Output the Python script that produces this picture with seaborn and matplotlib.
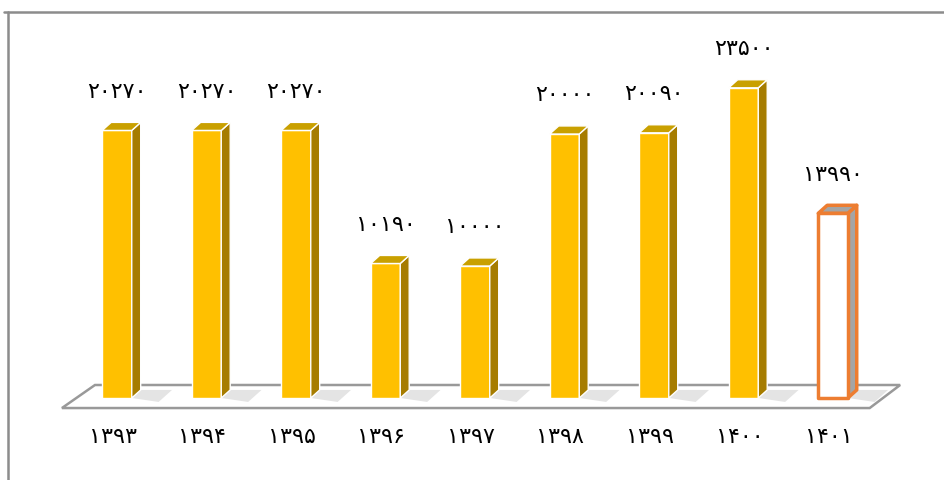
import numpy as np
import pandas as pd
import seaborn as sns
import matplotlib.pyplot as plt
from matplotlib.patches import Polygon
from matplotlib.lines import Line2D

# data (Persian digits as shown on the chart)
years = ['۱۳۹۳', '۱۳۹۴', '۱۳۹۵', '۱۳۹۶', '۱۳۹۷', '۱۳۹۸', '۱۳۹۹', '۱۴۰۰', '۱۴۰۱']
values = [20270, 20270, 20270, 10190, 10000, 20000, 20090, 23500, 13990]
value_labels = ['۲۰۲۷۰', '۲۰۲۷۰', '۲۰۲۷۰', '۱۰۱۹۰', '۱۰۰۰۰', '۲۰۰۰۰', '۲۰۰۹۰', '۲۳۵۰۰', '۱۳۹۹۰']

gold = '#FFC000'
gold_side = '#A67C00'
gold_top = '#C9A000'
orange = '#ED7D31'
grey_side = '#A5A5A5'
line_grey = '#999999'

sns.set_style('white')
plt.rcParams['font.family'] = ['DejaVu Sans']

df = pd.DataFrame({'year': years, 'value': values})

fig = plt.figure(figsize=(9.44, 4.8), dpi=100)
ax = fig.add_axes([0, 0, 1, 1])

# depth of the fake 3D effect (data units)
dx = 0.10
dy = 610

# floor
floor = Polygon([(-0.615, -760), (8.41, -760), (8.75, 985), (-0.246, 985)],
                closed=True, facecolor='white', edgecolor=line_grey, lw=1.8, zorder=1)
ax.add_patch(floor)

pal = [gold] * (len(years) - 1) + ['white']
sns.barplot(data=df, x='year', y='value', hue='year', palette=pal, legend=False,
            saturation=1, width=0.33, edgecolor='white', linewidth=1, ax=ax, zorder=3)

bars = [p for p in ax.patches if p is not floor]
for i, p in enumerate(bars):
    x0, w, h = p.get_x(), p.get_width(), p.get_height()
    last = i == len(years) - 1
    side_c = grey_side if last else gold_side
    top_c = grey_side if last else gold_top
    ec = orange if last else 'white'
    lw = 2.5 if last else 1
    # soft shadow on the floor
    ax.add_patch(Polygon([(x0 + w, 0), (x0 + w + dx, dy), (x0 + w + 0.45, dy),
                          (x0 + w + 0.3, -300)], closed=True,
                         facecolor='#e4e4e4', edgecolor='none', zorder=2))
    ax.add_patch(Polygon([(x0 + w, 0), (x0 + w + dx, dy), (x0 + w + dx, h + dy), (x0 + w, h)],
                         closed=True, facecolor=side_c, edgecolor=ec, lw=lw,
                         joinstyle='round', zorder=4))
    ax.add_patch(Polygon([(x0, h), (x0 + dx, h + dy), (x0 + w + dx, h + dy), (x0 + w, h)],
                         closed=True, facecolor=top_c, edgecolor=ec, lw=lw,
                         joinstyle='round', zorder=4))
    if last:
        p.set_edgecolor(orange)
        p.set_linewidth(2.5)
        p.set_joinstyle('round')
        p.set_zorder(5)
    ax.annotate(value_labels[i], (x0 + w / 2, h + dy), xytext=(0, 22),
                textcoords='offset points', ha='center', va='center',
                fontsize=16, color='black')

ax.set_xlim(-1.307, 9.240)
ax.set_ylim(-6212, 30152)
ax.set_xticks(range(len(years)))
ax.set_xticklabels([])
for i, lab in enumerate(years):
    ax.annotate(lab, (i, 0), xytext=(-3, -28), textcoords='offset points',
                ha='center', va='center', fontsize=16, color='black')
ax.set_axis_off()

# chart frame
fig.add_artist(Line2D([4 / 944, 1], [1 - 12 / 480, 1 - 12 / 480], color='#8c8c8c', lw=1.8))
fig.add_artist(Line2D([8 / 944, 8 / 944], [0, 1 - 12 / 480], color='#8c8c8c', lw=1.8))

fig.savefig('out.png', dpi=100)
